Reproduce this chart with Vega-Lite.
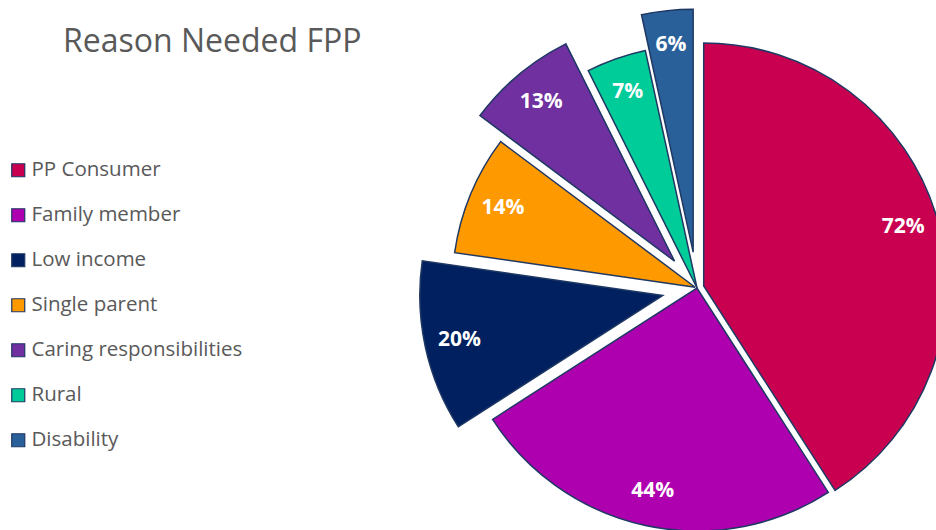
{
  "$schema": "https://vega.github.io/schema/vega-lite/v6.json",
  "autosize": "none",
  "width": 478,
  "height": 256,
  "padding": {"left": 458, "top": 160, "right": 0, "bottom": 114},
  "background": "white",
  "title": {
    "text": "Reason Needed FPP",
    "anchor": "start",
    "frame": "group",
    "dx": -395,
    "offset": -78,
    "baseline": "alphabetic",
    "font": "Open Sans",
    "fontSize": 32,
    "fontWeight": "normal",
    "color": "#595959"
  },
  "params": [
    {"name": "explode", "value": {"PP Consumer": 7, "Family member": 0, "Low income": 35, "Single parent": 2, "Caring responsibilities": 35, "Rural": 0, "Disability": 36}}
  ],
  "data": {
    "values": [
      {"reason": "PP Consumer", "value": 0.72},
      {"reason": "Family member", "value": 0.44},
      {"reason": "Low income", "value": 0.20},
      {"reason": "Single parent", "value": 0.14},
      {"reason": "Caring responsibilities", "value": 0.13},
      {"reason": "Rural", "value": 0.07},
      {"reason": "Disability", "value": 0.06}
    ]
  },
  "encoding": {
    "theta": {"field": "value", "type": "quantitative", "stack": true},
    "order": {"field": "value", "type": "quantitative", "sort": "descending"}
  },
  "layer": [
    {
      "mark": {
        "type": "arc",
        "outerRadius": 243,
        "stroke": "#1F3864",
        "strokeWidth": 1.5,
        "x": {"expr": "width/2 + (explode[datum.reason] || 0) * sin(scale('theta', (datum.value_start + datum.value_end)/2))"},
        "y": {"expr": "height/2 - (explode[datum.reason] || 0) * cos(scale('theta', (datum.value_start + datum.value_end)/2))"}
      },
      "encoding": {
        "color": {
          "field": "reason",
          "type": "nominal",
          "scale": {
            "domain": ["PP Consumer", "Family member", "Low income", "Single parent", "Caring responsibilities", "Rural", "Disability"],
            "range": ["#C9004F", "#AE00AE", "#00205F", "#FF9900", "#7030A0", "#00CC99", "#2A6099"]
          },
          "legend": {
            "orient": "left",
            "offset": 215,
            "title": null,
            "symbolType": "square",
            "symbolSize": 169,
            "symbolStrokeColor": "#1F3864",
            "symbolStrokeWidth": 1.2,
            "symbolOpacity": 1,
            "labelFont": "Open Sans",
            "labelFontSize": 20.5,
            "labelColor": "#595959",
            "labelOffset": 3,
            "labelLimit": 0,
            "rowPadding": 24
          }
        }
      }
    },
    {
      "mark": {
        "type": "text",
        "radius": 208,
        "font": "Open Sans",
        "fontSize": 21,
        "fontWeight": "bold",
        "fill": "white",
        "x": {"expr": "width/2 + (explode[datum.reason] || 0) * sin(scale('theta', (datum.value_start + datum.value_end)/2))"},
        "y": {"expr": "height/2 - (explode[datum.reason] || 0) * cos(scale('theta', (datum.value_start + datum.value_end)/2))"}
      },
      "encoding": {
        "text": {"field": "value", "type": "quantitative", "format": ".0%"}
      }
    }
  ]
}
